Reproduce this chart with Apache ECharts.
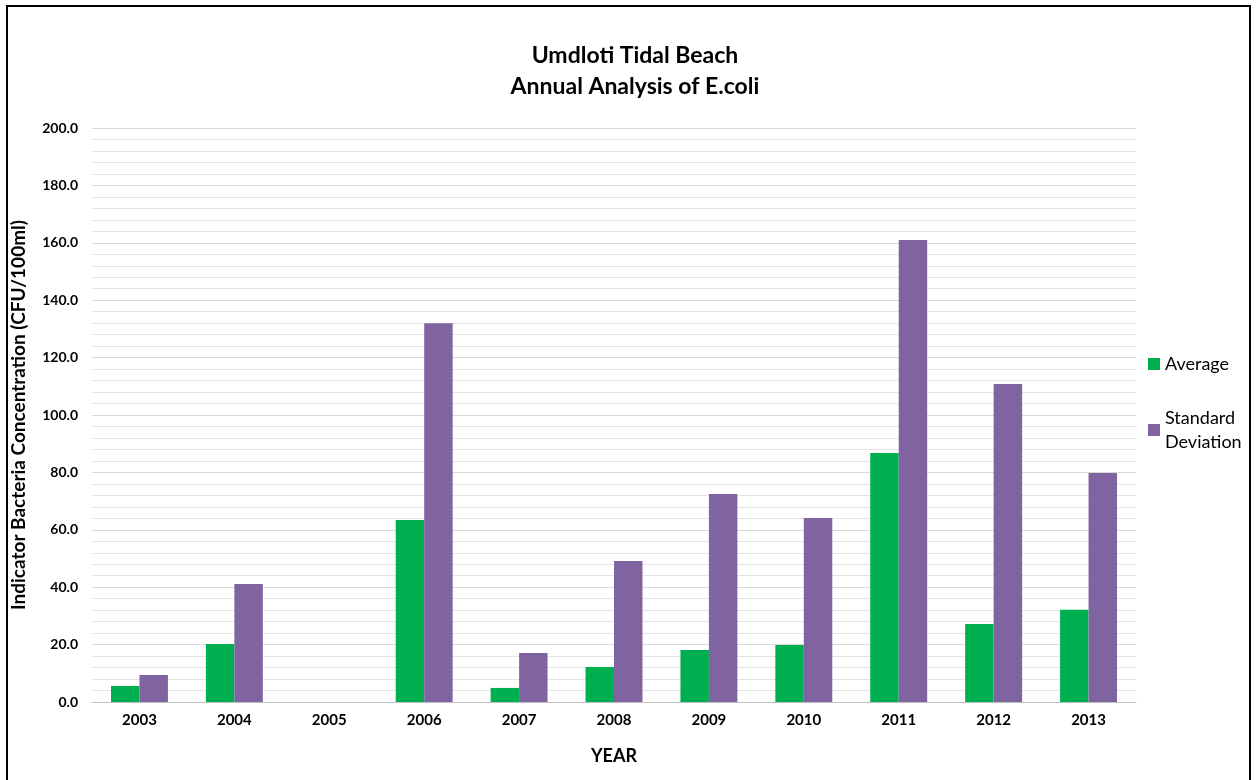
<!DOCTYPE html>
<html>
<head>
<meta charset="utf-8">
<script src="https://cdn.jsdelivr.net/npm/echarts@6/dist/echarts.min.js"></script>
<style>
  html, body { margin: 0; padding: 0; background: #fff; overflow: hidden; }
  #frame { position: absolute; left: 6px; top: 5px; width: 1245px; height: 800px; border: 2px solid #000; box-sizing: border-box; }
  #chart { position: absolute; left: 0; top: 0; width: 1260px; height: 780px; }
</style>
</head>
<body>
<div id="frame"></div>
<div id="chart"></div>
<script>
// Annual E.coli statistics, Umdloti Tidal Beach
const years = ['2003', '2004', '2005', '2006', '2007', '2008', '2009', '2010', '2011', '2012', '2013'];
const averageValues = [5.6, 20.2, null, 63.4, 4.9, 12.2, 18.1, 19.9, 86.8, 27.2, 32.1];
const stdDevValues = [9.4, 41.1, null, 132.0, 17.1, 49.1, 72.5, 64.1, 161.0, 110.8, 79.8];

const fontFamily = 'Lato, "Open Sans", sans-serif';
const chart = echarts.init(document.getElementById('chart'));

chart.setOption({
  backgroundColor: 'transparent',
  animation: false,
  title: {
    text: 'Umdloti Tidal Beach\nAnnual Analysis of E.coli',
    left: 630,
    textAlign: 'center',
    top: 35,
    textStyle: { fontFamily, fontWeight: 'bold', fontSize: 23, lineHeight: 31, color: '#000' }
  },
  legend: {
    orient: 'vertical',
    left: 1143,
    top: 347,
    itemWidth: 12,
    itemHeight: 12,
    itemGap: 30,
    icon: 'rect',
    textStyle: { fontFamily, fontSize: 18, color: '#000', lineHeight: 24 },
    data: ['Average', 'Standard\nDeviation']
  },
  grid: { left: 92, right: 124, top: 128, bottom: 78, containLabel: false },
  xAxis: {
    type: 'category',
    data: years,
    name: 'YEAR',
    nameLocation: 'middle',
    nameGap: 45,
    nameTextStyle: { fontFamily, fontWeight: 'bold', fontSize: 18, color: '#000' },
    axisLine: { lineStyle: { color: '#bfbfbf', width: 1 } },
    axisTick: { show: false },
    axisLabel: { fontFamily, fontWeight: 'bold', fontSize: 15, color: '#000', margin: 11 }
  },
  yAxis: {
    type: 'value',
    min: 0,
    max: 200,
    interval: 20,
    name: 'Indicator Bacteria Concentration (CFU/100ml)',
    nameLocation: 'middle',
    nameGap: 64,
    nameTextStyle: { fontFamily, fontWeight: 'bold', fontSize: 19, color: '#000' },
    axisLine: { show: false },
    axisTick: { show: false },
    axisLabel: {
      fontFamily, fontWeight: 'bold', fontSize: 14, color: '#000', margin: 14,
      formatter: v => v.toFixed(1)
    },
    splitLine: { lineStyle: { color: '#d9d9d9', width: 1 } },
    minorTick: { show: false, splitNumber: 5 },
    minorSplitLine: { show: true, lineStyle: { color: '#e3e3e3', width: 1 } }
  },
  series: [
    {
      name: 'Average',
      type: 'bar',
      data: averageValues,
      barGap: '0%',
      barCategoryGap: '40%',
      itemStyle: { color: '#00B050' }
    },
    {
      name: 'Standard\nDeviation',
      type: 'bar',
      data: stdDevValues,
      itemStyle: { color: '#8064A2' }
    }
  ]
});
</script>
</body>
</html>
